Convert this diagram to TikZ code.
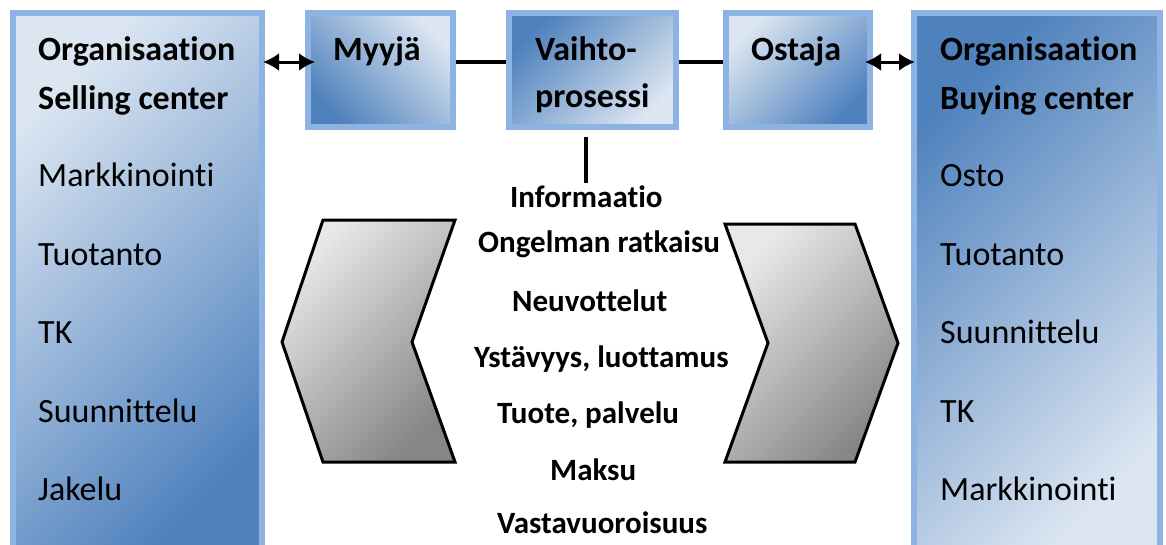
\documentclass[tikz,border=0pt]{standalone}
\usepackage{fontspec}
\setmainfont{Carlito}[RawFeature={-liga,-clig}]
\usetikzlibrary{arrows.meta,calc}
\definecolor{paleblue}{HTML}{DCE6F2}
\definecolor{deepblue}{HTML}{4F81BD}
\definecolor{rimblue}{HTML}{8DB3E2}
\definecolor{chevlight}{HTML}{E8E8E8}
\definecolor{chevdark}{HTML}{868686}
\begin{document}
\begin{tikzpicture}[x=1pt,y=1pt,
  blockbox/.style={draw=rimblue, line width=6pt, anchor=north west, inner sep=0pt},
  litefirst/.style={top color=paleblue, bottom color=deepblue},
  darkfirst/.style={top color=deepblue, bottom color=paleblue},
  chevron/.style={draw=black, line width=3pt, top color=chevlight, bottom color=chevdark, shading angle=45},
  link/.style={draw=black, line width=4pt},
  twoway/.style={draw=black, line width=3pt, {Latex[length=16pt,width=18pt]}-{Latex[length=16pt,width=18pt]}},
  sidetext/.style={font=\fontsize{34}{40}\selectfont, anchor=base west, inner sep=0pt},
  headtext/.style={sidetext, font=\fontsize{34}{40}\selectfont\bfseries},
  midtext/.style={font=\fontsize{31}{36}\selectfont\bfseries, anchor=base west, inner sep=0pt}]
\clip (0,0) rectangle (1166,-544);

% blue blocks (anchored at their outer corner)
\node[blockbox, litefirst, shading angle=45, minimum width=249pt, minimum height=547pt] (selling) at (10,-10) {};
\node[blockbox, litefirst, shading angle=-45, minimum width=145pt, minimum height=114pt] (myyja) at (305,-10) {};
\node[blockbox, darkfirst, shading angle=45, minimum width=167pt, minimum height=114pt] (vaihto) at (506,-10) {};
\node[blockbox, litefirst, shading angle=45, minimum width=144pt, minimum height=114pt] (ostaja) at (723,-10) {};
\node[blockbox, darkfirst, shading angle=45, minimum width=246pt, minimum height=547pt] (buying) at (911,-10) {};

% connectors along the top row
\coordinate (rowy) at ($(myyja.west)+(0,8)$);
\draw[link] (myyja.east |- rowy) -- (vaihto.west |- rowy);
\draw[link] (vaihto.east |- rowy) -- (ostaja.west |- rowy);
\draw[twoway] ($(selling.east |- rowy)+(-2,0)$) -- ($(myyja.west |- rowy)+(10,0)$);
\draw[twoway] ($(ostaja.east |- rowy)+(-8,0)$) -- ($(buying.west |- rowy)+(4,0)$);
\coordinate (infotop) at (586,-183);
\draw[link] ($(vaihto.south)+(-6.5,-7)$) -- (infotop);

% chevrons
\draw[chevron] (323,-220) -- (455,-220) -- (412,-342) -- (455,-462) -- (323,-462) -- (282,-342) -- cycle;
\draw[chevron] (725,-224) -- (855,-224) -- (898,-343) -- (855,-462) -- (725,-462) -- (768,-343) -- cycle;

% selling side
\node[headtext] (sellhead1) at (38,-60) {Organisaation};
\node[headtext] (sellhead2) at (38,-109) {Selling center};
\node[sidetext] (s1) at (38,-186) {Markkinointi};
\node[sidetext] (s2) at (38,-265) {Tuotanto};
\node[sidetext] (s3) at (38,-343) {TK};
\node[sidetext] (s4) at (38,-422) {Suunnittelu};
\node[sidetext] (s5) at (38,-500) {Jakelu};

% buying side
\node[headtext] (buyhead1) at (940,-60) {Organisaation};
\node[headtext] (buyhead2) at (940,-109) {Buying center};
\node[sidetext] (b1) at (940,-186) {Osto};
\node[sidetext] (b2) at (940,-265) {Tuotanto};
\node[sidetext] (b3) at (940,-343) {Suunnittelu};
\node[sidetext] (b4) at (940,-422) {TK};
\node[sidetext] (b5) at (940,-500) {Markkinointi};

% top row labels
\node[headtext] (myyjatext) at (333,-60) {Myyjä};
\node[headtext] (vaihtotext1) at (535,-60) {Vaihto-};
\node[headtext] (vaihtotext2) at (535,-107) {prosessi};
\node[headtext] (ostajatext) at (751,-60) {Ostaja};

% exchange contents
\node[midtext] (m1) at (510,-207) {Informaatio};
\node[midtext] (m2) at (478,-252) {Ongelman ratkaisu};
\node[midtext] (m3) at (512,-311) {Neuvottelut};
\node[midtext] (m4) at (474,-367) {Ystävyys, luottamus};
\node[midtext] (m5) at (497,-423) {Tuote, palvelu};
\node[midtext] (m6) at (550,-480) {Maksu};
\node[midtext] (m7) at (497,-533) {Vastavuoroisuus};
\end{tikzpicture}
\end{document}
